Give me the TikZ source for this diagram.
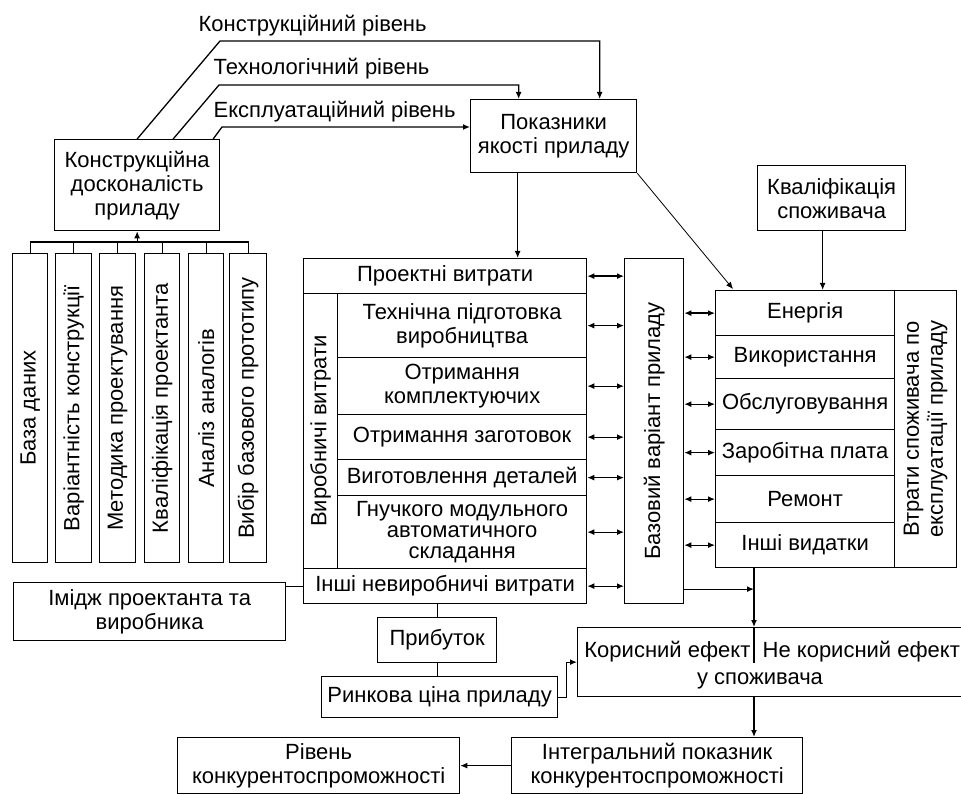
\documentclass[tikz,border=0pt]{standalone}
\usepackage{fontspec}
\setmainfont{Liberation Sans}
\usetikzlibrary{arrows.meta,calc}
\newcommand{\fsz}{\fontsize{22}{24}\selectfont}
\newcommand{\bx}[7][]{\node[box,#1,anchor=north west,minimum width={#5-#3},minimum height={#6-#4}] (#2) at (#3,#4) {#7};}
\begin{document}
\begin{tikzpicture}[x=1pt,y=-1pt,line width=1.3pt,
  box/.style={draw,inner sep=0pt,align=center,font=\fsz},
  vtxt/.style={rotate=90,inner sep=0pt,align=center,font=\fsz},
  lbl/.style={inner sep=0pt,font=\fsz},
  arr/.style={-{Latex[length=7pt,width=6pt]}},
  darr/.style={{Latex[length=7pt,width=6pt]}-{Latex[length=7pt,width=6pt]}}]
\useasboundingbox (0,0) rectangle (961,794);
\fill[white] (0,0) rectangle (961,794);

% top
\bx{konstr}{54}{139}{219}{230}{Конструкційна\\досконалість\\приладу}
\bx{pokaz}{470}{99}{636}{172}{Показники\\якості приладу}
\bx{kval}{757}{165}{905}{230}{Кваліфікація\\споживача}

\node[lbl,anchor=base west] (l1) at (198,32) {Конструкційний рівень};
\node[lbl,anchor=base west] (l2) at (213,75) {Технологічний рівень};
\node[lbl,anchor=base west] (l3) at (213,118) {Експлуатаційний рівень};

% left vertical boxes
\bx{b1}{12}{253}{47}{562}{}
\bx{b2}{55}{253}{91}{562}{}
\bx{b3}{99}{253}{135}{562}{}
\bx{b4}{144}{253}{179}{562}{}
\bx{b5}{188}{253}{223}{562}{}
\bx{b6}{229}{253}{266}{562}{}
\node[vtxt] (b1t) at (b1) {База даних};
\node[vtxt] (b2t) at (b2) {Варіантність конструкції};
\node[vtxt] (b3t) at (b3) {Методика проектування};
\node[vtxt] (b4t) at (b4) {Кваліфікація проектанта};
\node[vtxt] (b5t) at (b5) {Аналіз аналогів};
\node[vtxt] (b6t) at (b6) {Вибір базового прототипу};

% middle block
\bx{proekt}{303}{258}{586}{293}{Проектні витрати}
\bx{vyrob}{303}{293}{337}{568}{}
\node[vtxt] (vyrobt) at (vyrob) {Виробничі витрати};
\bx{tekh}{337}{293}{586}{357}{Технічна підготовка\\виробництва}
\bx{kompl}{337}{357}{586}{414}{Отримання\\комплектуючих}
\bx{zagot}{337}{414}{586}{459}{Отримання заготовок}
\bx{detal}{337}{459}{586}{495}{Виготовлення деталей}
\bx[font=\fontsize{22}{21}\selectfont]{gnuch}{337}{495}{586}{568}{Гнучкого модульного\\автоматичного\\складання}
\bx{inshi}{303}{568}{586}{603}{Інші невиробничі витрати}

\bx{bas}{624}{258}{683}{603}{}
\node[vtxt] (bast) at (bas) {Базовий варіант приладу};

% right block
\bx{enerh}{715}{290}{894}{335}{Енергія}
\bx{vykor}{715}{335}{894}{378}{Використання}
\bx{obsl}{715}{378}{894}{429}{Обслуговування}
\bx{zarpl}{715}{429}{894}{475}{Заробітна плата}
\bx{remont}{715}{475}{894}{522}{Ремонт}
\bx{inshv}{715}{522}{894}{567}{Інші видатки}
\bx{vtraty}{894}{290}{956}{567}{}
\node[vtxt] (vtrt) at (vtraty) {Втрати споживача по\\експлуатації приладу};

% bottom
\bx{imidzh}{13}{582}{285}{640}{Імідж проектанта та\\виробника}
\bx{prib}{377}{617}{496}{662}{Прибуток}
\bx{rynk}{321}{676}{557}{717}{Ринкова ціна приладу}
\bx{koris}{577}{627}{1010}{696}{}
\node[lbl,anchor=base east] (kt1) at (751,657) {Корисний ефект};
\node[lbl,anchor=base west] (kt2) at (762,657) {Не корисний ефект};
\node[lbl,anchor=base] (kt3) at (760,684) {у споживача};
\bx{integ}{511}{737}{802}{793}{Інтегральний показник\\конкурентоспроможності}
\bx{riven}{177}{737}{459}{793}{Рівень\\конкурентоспроможності}

% connectors: top levels
\coordinate (c1) at (220,41);
\coordinate (c2) at (219,85);
\coordinate (c3) at (222,127);
\draw[arr] (konstr.north) -- (c1) -| ([xshift=46pt]pokaz.north);
\draw[arr] ([xshift=36pt]konstr.north) -- (c2) -| ([xshift=-35pt]pokaz.north);
\draw[arr] ([xshift=76pt]konstr.north) -- (c3) -- (c3 -| pokaz.west);

% bus
\draw (b1.north) -- ++(0,-11) -| (b6.north);
\foreach \i in {2,...,5} \draw (b\i.north) -- ++(0,-11);
\draw[arr] ([yshift=11pt]konstr.south |- b1.north) -- (konstr.south);

% pokaz
\draw[arr] ([xshift=-36pt]pokaz.south) -- ([xshift=-36pt]pokaz.south |- proekt.north);
\coordinate (dg) at (733,289);
\draw[arr,line width=0.8pt] (pokaz.south east) -- (dg);
\draw[arr] ([xshift=-9pt]kval.south) -- ([xshift=-9pt]kval.south |- enerh.north);

% double arrows
\foreach \n in {proekt,tekh,kompl,zagot,detal,gnuch,inshi}
  \draw[darr] (\n.east) -- (\n.east -| bas.west);
\foreach \n in {enerh,vykor,obsl,zarpl,remont,inshv}
  \draw[darr] (\n.west -| bas.east) -- (\n.west);

% lower connectors
\draw (imidzh.east |- inshi.west) -- (inshi.west);
\coordinate (vt) at (754,567);
\draw[arr] ([yshift=-3pt]inshi.east -| bas.east) -- ([yshift=-3pt]inshi.east -| vt);
\draw[arr] (vt) -- (vt |- koris.north);
\draw (vt |- koris.north) -- ++(0,36);
\draw[arr] (vt |- koris.south) -- (vt |- integ.north);
\draw[arr] (rynk.east) -- ++(8,0) |- (koris.west);
\draw (prib.north) -- (prib.north |- inshi.south);
\draw (prib.south) -- (prib.south |- rynk.north);
\draw[arr] (integ.west) -- (riven.east);
\end{tikzpicture}
\end{document}
